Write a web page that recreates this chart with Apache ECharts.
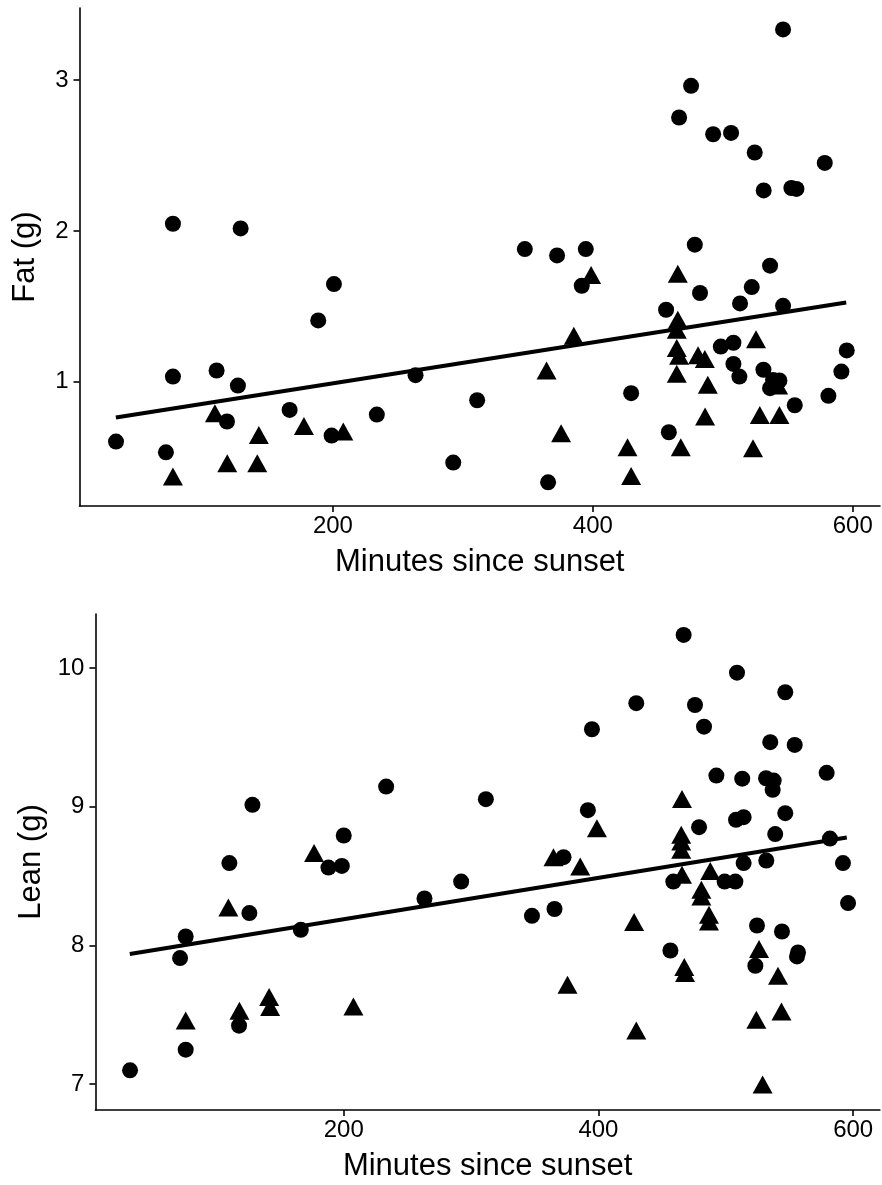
<!DOCTYPE html>
<html>
<head>
<meta charset="utf-8">
<script src="https://cdn.jsdelivr.net/npm/echarts@6.0.0/dist/echarts.min.js"></script>
<style>
html,body{margin:0;padding:0;background:#fff;}
#chart{width:882px;height:1185px;}
</style>
</head>
<body>
<div id="chart"></div>
<script>
// ---- Data ----
const xTicks = [200, 400, 600];
const fatTicks = [1, 2, 3];
const leanTicks = [7, 8, 9, 10];

const fatCircleX = [33.1,76.9,129,200.8,188.7,76.9,110.5,126.9,166.7,118.5,71.5,233.8,199,263.6,292.6,311,347.7,372.5,394.6,391.5,365.6,429.5,458.5,456.4,546.4,475.6,466.4,492.6,506.4,524.6,578.5,531.5,552.8,556.7,478.5,536.4,522.3,482.5,513.3,546.4,498.5,508.2,595.4,591.3,508.2,512.8,531.3,536.4,543.6,538.7,581.3,555.4];
const fatCircleY = [0.604,2.048,2.017,1.648,1.407,1.035,1.075,0.975,0.814,0.737,0.533,0.783,0.644,1.044,0.465,0.878,1.880,1.838,1.880,1.637,0.334,0.925,0.666,1.478,3.336,2.962,2.752,2.641,2.650,2.520,2.451,2.269,2.285,2.279,1.909,1.770,1.628,1.589,1.520,1.504,1.234,1.259,1.208,1.068,1.119,1.035,1.080,0.958,1.009,1.013,0.907,0.845];

const fatTriX = [76.9,109.2,118.7,141.8,143,177.7,208,398.7,385.4,364.4,375.6,426.7,429.5,465.4,465.4,464.6,464.6,466.4,481,486.2,464.6,488.5,486.4,467.7,525.6,528.5,543.6,523.3,542.6];
const fatTriY = [0.372,0.792,0.460,0.460,0.648,0.708,0.670,1.708,1.305,1.075,0.660,0.567,0.376,1.717,1.411,1.345,1.224,1.173,1.177,1.151,1.053,0.980,0.770,0.567,1.283,0.781,0.781,0.560,0.975];

const leanCircleX = [32.2,75.9,71.5,75.9,117.8,110.2,125.9,128.3,166.3,188,198.5,200,233.3,263.4,292.2,311.6,347.8,365.5,372.6,394.9,391.7,429.7,466.9,508.8,475.8,546.7,482.9,534.9,554.1,579.2,492.6,512.9,531.6,537.6,536.8,546.7,508,514,479,538.8,581.8,514,531.8,592,458.8,499.1,507.5,596,524.5,544.1,456.5,556.7,555.9,523.2];
const leanCircleY = [7.099,7.248,7.908,8.064,7.421,8.593,8.233,9.013,8.112,8.561,8.573,8.792,9.145,8.338,8.460,9.054,8.213,8.262,8.636,9.558,8.975,9.746,10.238,9.966,9.733,9.825,9.577,9.465,9.445,9.244,9.224,9.202,9.205,9.188,9.121,8.953,8.905,8.924,8.852,8.802,8.770,8.593,8.612,8.593,8.460,8.460,8.460,8.305,8.143,8.100,7.963,7.949,7.920,7.853];

const leanTriX = [75.9,109.4,118.1,141.4,142.2,176.7,207.6,364.7,398.8,385.7,428,375.7,429.7,465.6,465,465,465,465.6,487.8,480.8,480.8,486.8,486.8,467.4,468,526.1,541,543.7,524,528.9];
const leanTriY = [7.459,8.273,7.529,7.627,7.555,8.665,7.560,8.636,8.845,8.569,8.168,7.716,7.387,9.056,8.797,8.749,8.689,8.509,8.537,8.401,8.352,8.220,8.172,7.844,7.801,7.973,7.781,7.524,7.464,6.996];

// fitted regression lines (end points)
const fatLineX = [33, 595];
const fatLineY = [0.763, 1.526];
const leanLineX = [32, 595];
const leanLineY = [7.937, 8.777];

// ---- Helpers ----
const zip = (xs, ys) => xs.map((x, i) => [x, ys[i]]);
const FONT = '"Liberation Sans", Arial, Helvetica, sans-serif';

function xAxisCfg(gi) {
  return {
    type: 'value', gridIndex: gi, min: 5, max: 621,
    name: 'Minutes since sunset', nameLocation: 'middle', nameGap: 41,
    nameTextStyle: { fontFamily: FONT, fontSize: 31, color: '#000' },
    axisLine: { show: true, onZero: false, lineStyle: { color: '#000', width: 1.6 } },
    axisTick: { show: true, length: 6, customValues: xTicks, lineStyle: { color: '#000', width: 1.6 } },
    axisLabel: { show: true, customValues: xTicks, margin: 8, fontFamily: FONT, fontSize: 24, color: '#000' },
    splitLine: { show: false }
  };
}
function yAxisCfg(gi, name, min, max, ticks, gap) {
  return {
    type: 'value', gridIndex: gi, min: min, max: max,
    name: name, nameLocation: 'middle', nameGap: gap, nameRotate: 90,
    nameTextStyle: { fontFamily: FONT, fontSize: 31, color: '#000' },
    axisLine: { show: true, onZero: false, lineStyle: { color: '#000', width: 1.6 } },
    axisTick: { show: true, length: 6, customValues: ticks, lineStyle: { color: '#000', width: 1.6 } },
    axisLabel: { show: true, customValues: ticks, margin: 11, fontFamily: FONT, fontSize: 24, color: '#000' },
    splitLine: { show: false }
  };
}
function pts(gi, data, symbol, size) {
  return {
    type: 'scatter', xAxisIndex: gi, yAxisIndex: gi, data: data,
    symbol: symbol, symbolSize: size,
    itemStyle: { color: '#000', opacity: 1 }, z: 2, silent: true
  };
}
function fitLine(gi, data) {
  return {
    type: 'line', xAxisIndex: gi, yAxisIndex: gi, data: data,
    showSymbol: false, symbol: 'none',
    lineStyle: { color: '#000', width: 4 }, z: 5, silent: true
  };
}

const chart = echarts.init(document.getElementById('chart'), null, { renderer: 'canvas' });
chart.setOption({
  animation: false,
  backgroundColor: '#fff',
  grid: [
    { left: 79.5, top: 8, width: 800.5, height: 498, containLabel: false, outerBoundsMode: 'none' },
    { left: 95.4, top: 614, width: 784.5, height: 496, containLabel: false, outerBoundsMode: 'none' }
  ],
  xAxis: [xAxisCfg(0), xAxisCfg(1)],
  yAxis: [
    yAxisCfg(0, 'Fat (g)', 0.177, 3.478, fatTicks, 39),
    yAxisCfg(1, 'Lean (g)', 6.813, 10.389, leanTicks, 42)
  ],
  series: [
    pts(0, zip(fatCircleX, fatCircleY), 'circle', 16),
    pts(0, zip(fatTriX, fatTriY), 'triangle', [20, 18]),
    fitLine(0, zip(fatLineX, fatLineY)),
    pts(1, zip(leanCircleX, leanCircleY), 'circle', 16),
    pts(1, zip(leanTriX, leanTriY), 'triangle', [20, 18]),
    fitLine(1, zip(leanLineX, leanLineY))
  ]
});
</script>
</body>
</html>
